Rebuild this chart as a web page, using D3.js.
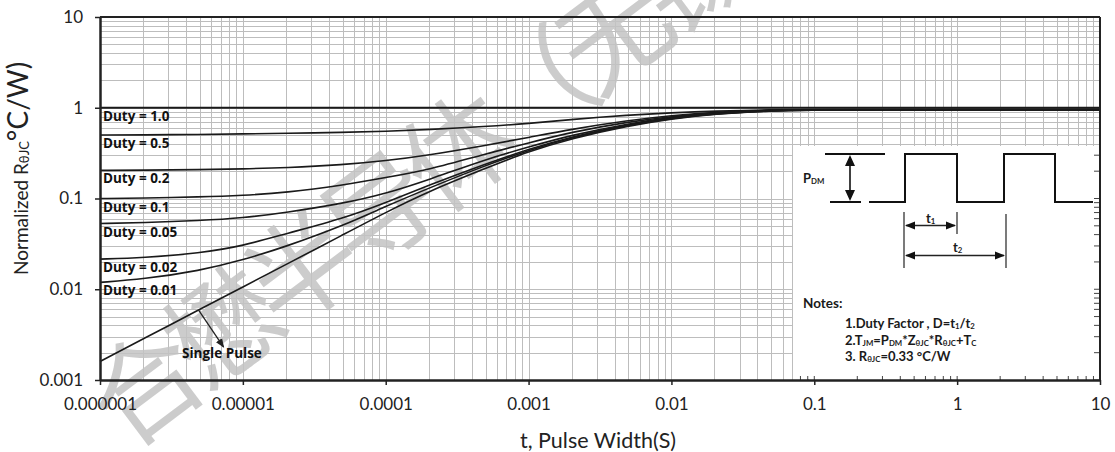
<!DOCTYPE html>
<html>
<head>
<meta charset="utf-8">
<script src="https://cdn.jsdelivr.net/npm/d3@7"></script>
<style>
  body { margin: 0; background: #fff; }
  svg text { font-family: Lato, "Open Sans", sans-serif; }
</style>
</head>
<body>
<div id="chart"></div>
<script>
// pulse widths (s) where the curves were read
const pulseWidths = [1e-6, 2e-6, 5e-6, 1e-5, 2e-5, 5e-5, 1e-4, 2e-4, 5e-4, 1e-3, 2e-3, 5e-3, 1e-2, 2e-2, 5e-2, 1e-1, 1, 10];

// normalized thermal impedance, one array per duty cycle
const duty10  = [1, 1, 1, 1, 1, 1, 1, 1, 1, 1, 1, 1, 1, 1, 1, 1, 1, 1];
const duty05  = [0.50, 0.502, 0.508, 0.515, 0.523, 0.535, 0.548, 0.575, 0.62, 0.67, 0.745, 0.83, 0.88, 0.92, 0.95, 0.96, 0.96, 0.96];
const duty02  = [0.204, 0.205, 0.208, 0.212, 0.218, 0.235, 0.26, 0.30, 0.385, 0.47, 0.58, 0.725, 0.82, 0.895, 0.94, 0.955, 0.955, 0.955];
const duty01  = [0.100, 0.101, 0.104, 0.108, 0.116, 0.14, 0.17, 0.207, 0.31, 0.41, 0.54, 0.70, 0.80, 0.885, 0.94, 0.953, 0.953, 0.953];
const duty005 = [0.053, 0.054, 0.057, 0.061, 0.07, 0.088, 0.113, 0.161, 0.27, 0.37, 0.50, 0.67, 0.785, 0.875, 0.935, 0.952, 0.952, 0.952];
const duty002 = [0.0215, 0.0222, 0.025, 0.030, 0.041, 0.060, 0.090, 0.14, 0.24, 0.35, 0.48, 0.655, 0.77, 0.865, 0.93, 0.95, 0.95, 0.95];
const duty001 = [0.0119, 0.0129, 0.016, 0.021, 0.0295, 0.050, 0.082, 0.13, 0.232, 0.34, 0.47, 0.645, 0.765, 0.86, 0.93, 0.95, 0.95, 0.95];
const single  = [0.0016, 0.00283, 0.0060, 0.0106, 0.0187, 0.0397, 0.0704, 0.12, 0.215, 0.33, 0.46, 0.635, 0.755, 0.855, 0.925, 0.948, 0.948, 0.948];

const seriesNames = ["Duty = 1.0", "Duty = 0.5", "Duty = 0.2", "Duty = 0.1", "Duty = 0.05", "Duty = 0.02", "Duty = 0.01", "Single Pulse"];
const seriesValues = [duty10, duty05, duty02, duty01, duty005, duty002, duty001, single];

const xTickValues = [1e-6, 1e-5, 1e-4, 1e-3, 1e-2, 1e-1, 1, 10];
const xTickLabels = ["0.000001", "0.00001", "0.0001", "0.001", "0.01", "0.1", "1", "10"];
const yTickValues = [0.001, 0.01, 0.1, 1, 10];
const yTickLabels = ["0.001", "0.01", "0.1", "1", "10"];

const W = 1115, H = 452;
const margin = { top: 17, right: 15, bottom: 72, left: 100 };

const svg = d3.select("#chart").append("svg")
    .attr("width", W)
    .attr("height", H);

const x = d3.scaleLog().domain([1e-6, 10]).range([margin.left, W - margin.right]);
const y = d3.scaleLog().domain([0.001, 10]).range([H - margin.bottom, margin.top]);

const x0 = x.range()[0], x1 = x.range()[1];
const y0 = y.range()[0], y1 = y.range()[1];

// grid
const grid = svg.append("g").attr("stroke", "#bdbdbd").attr("stroke-width", 1);
grid.selectAll(".gx").data(x.ticks()).enter().append("line")
    .attr("x1", d => Math.round(x(d)) + 0.5).attr("x2", d => Math.round(x(d)) + 0.5)
    .attr("y1", y1).attr("y2", y0);
grid.selectAll(".gy").data(y.ticks()).enter().append("line")
    .attr("y1", d => Math.round(y(d)) + 0.5).attr("y2", d => Math.round(y(d)) + 0.5)
    .attr("x1", x0).attr("x2", x1);

// watermark
svg.append("text")
    .attr("transform", "translate(126,452) rotate(-37)")
    .attr("fill", "#c4c4c4")
    .attr("opacity", 0.85)
    .style("font-family", "'Noto Sans CJK SC'")
    .style("font-size", "110px")
    .style("letter-spacing", "-12px")
    .text("合懋半导体（无锡）");

// curves
const line = d3.line()
    .x((d, i) => x(pulseWidths[i]))
    .y(d => y(d))
    .curve(d3.curveBasis);

svg.append("g").selectAll("path")
    .data(seriesValues)
    .enter().append("path")
    .attr("d", d => line(d))
    .attr("fill", "none")
    .attr("stroke", "#1a1a1a")
    .attr("stroke-width", (d, i) => i === 0 ? 2 : 1.6);

// duty labels
svg.append("g").selectAll("text")
    .data(seriesNames.slice(0, 7))
    .enter().append("text")
    .attr("x", x0 + 3)
    .attr("y", (d, i) => y(seriesValues[i][0]) + 13)
    .style("font-family", "'Open Sans'")
    .style("font-weight", "bold")
    .style("font-size", "13.5px")
    .attr("fill", "#111")
    .text(d => d);

// single pulse label and arrow
svg.append("defs").append("marker")
    .attr("id", "head")
    .attr("viewBox", "0 0 10 10")
    .attr("refX", 9).attr("refY", 5)
    .attr("markerWidth", 7).attr("markerHeight", 7)
    .attr("orient", "auto")
    .append("path").attr("d", "M0,1 L10,5 L0,9 Z").attr("fill", "#222");

const spT = 4.9e-6;
const spIdx = d3.bisectLeft(pulseWidths, spT);
const spV = Math.exp(Math.log(single[spIdx - 1]) + (Math.log(spT) - Math.log(pulseWidths[spIdx - 1])) /
    (Math.log(pulseWidths[spIdx]) - Math.log(pulseWidths[spIdx - 1])) * (Math.log(single[spIdx]) - Math.log(single[spIdx - 1])));
svg.append("line")
    .attr("x1", x(spT)).attr("y1", y(spV))
    .attr("x2", x(spT) + 25).attr("y2", y(spV) + 37)
    .attr("stroke", "#222").attr("stroke-width", 1.3)
    .attr("marker-end", "url(#head)");
svg.append("text")
    .attr("x", 182).attr("y", 358)
    .style("font-family", "'Open Sans'")
    .style("font-weight", "bold")
    .style("font-size", "13.5px")
    .attr("fill", "#111")
    .text(seriesNames[7]);

// notes box
const notes = svg.append("g");
notes.append("rect")
    .attr("x", 793).attr("y", 146)
    .attr("width", x1 - 793 - 1).attr("height", y0 - 146 - 1)
    .attr("fill", "#fff");

// minor inner ticks visible inside the box
notes.selectAll(".mx").data(x.ticks().filter(d => x(d) > 793)).enter().append("line")
    .attr("x1", d => x(d)).attr("x2", d => x(d))
    .attr("y1", y0 - 4).attr("y2", y0)
    .attr("stroke", "#444").attr("stroke-width", 1);
notes.selectAll(".my").data(y.ticks().filter(d => y(d) > 146)).enter().append("line")
    .attr("x1", x1 - 6).attr("x2", x1)
    .attr("y1", d => y(d)).attr("y2", d => y(d))
    .attr("stroke", "#444").attr("stroke-width", 1);

// pulse diagram
const pd = notes.append("g").attr("stroke", "#111").attr("stroke-width", 2).attr("fill", "none");
pd.append("line").attr("x1", 825).attr("x2", 885).attr("y1", 154).attr("y2", 154);
pd.append("line").attr("x1", 830).attr("x2", 861).attr("y1", 202).attr("y2", 202);
pd.append("path").attr("d", "M869,202 H905 V154 H957 V202 H1004 V154 H1055 V202 H1093");
pd.append("line").attr("x1", 850).attr("x2", 850).attr("y1", 157).attr("y2", 199).attr("stroke-width", 1.6);
pd.append("path").attr("d", "M850,155 L845,166 L855,166 Z M850,201 L845,190 L855,190 Z").attr("fill", "#111").attr("stroke", "none");
const dim = notes.append("g").attr("stroke", "#222").attr("stroke-width", 1.2);
dim.append("line").attr("x1", 904).attr("x2", 904).attr("y1", 212).attr("y2", 268);
dim.append("line").attr("x1", 957).attr("x2", 957).attr("y1", 212).attr("y2", 234);
dim.append("line").attr("x1", 1006).attr("x2", 1006).attr("y1", 214).attr("y2", 268);
dim.append("line").attr("x1", 906).attr("x2", 955).attr("y1", 225.5).attr("y2", 225.5).attr("stroke-width", 1.4);
dim.append("line").attr("x1", 906).attr("x2", 1004).attr("y1", 255.5).attr("y2", 255.5).attr("stroke-width", 1.4);
notes.append("path")
    .attr("d", "M905,225.5 L915,221.5 L915,229.5 Z M956,225.5 L946,221.5 L946,229.5 Z M905,255.5 L915,251.5 L915,259.5 Z M1005,255.5 L995,251.5 L995,259.5 Z")
    .attr("fill", "#111");

const nt = notes.append("g")
    .style("font-family", "'Liberation Sans', Arial, sans-serif")
    .style("font-weight", "bold")
    .attr("fill", "#1a1a1a");

function richText(g, xPos, yPos, size, parts) {
    const t = g.append("text").attr("x", xPos).attr("y", yPos).style("font-size", size + "px");
    parts.forEach(p => {
        const s = t.append("tspan").text(p[0]);
        if (p[1]) s.style("font-size", (size * 0.6) + "px").attr("dy", 1);
        else if (p[2]) s.attr("dy", -1);
    });
    return t;
}
richText(nt, 803, 183, 13, [["P"], ["DM", true]]);
richText(nt, 926, 223, 13, [["t"], ["1", true]]);
richText(nt, 953, 252, 13, [["t"], ["2", true]]);
nt.append("text").attr("x", 803).attr("y", 308).style("font-size", "13.5px").text("Notes:");
richText(nt, 845, 328, 13, [["1.Duty Factor , D=t"], ["1", true], ["/t", false, true], ["2", true]]);
richText(nt, 845, 345, 13, [["2.T"], ["JM", true], ["=P", false, true], ["DM", true], ["*Z", false, true], ["θJC", true], ["*R", false, true], ["θJC", true], ["+T", false, true], ["C", true]]);
richText(nt, 845, 361, 13, [["3. R"], ["θJC", true], ["=0.33 °C/W", false, true]]);

// frame
const frame = svg.append("g").attr("stroke", "#222").attr("fill", "none");
frame.append("line").attr("x1", x0).attr("x2", x1).attr("y1", y1).attr("y2", y1).attr("stroke-width", 2);
frame.append("line").attr("x1", x1).attr("x2", x1).attr("y1", y1).attr("y2", y0).attr("stroke-width", 2);

// axes
const xAxis = svg.append("g")
    .attr("transform", `translate(0,${y0})`)
    .call(d3.axisBottom(x).tickValues(xTickValues).tickFormat((d, i) => xTickLabels[i]).tickSize(5).tickPadding(13).tickSizeOuter(0));
const yAxis = svg.append("g")
    .attr("transform", `translate(${x0},0)`)
    .call(d3.axisLeft(y).tickValues(yTickValues).tickFormat((d, i) => yTickLabels[i]).tickSize(5).tickPadding(12).tickSizeOuter(0));
[xAxis, yAxis].forEach(a => {
    a.select(".domain").attr("stroke", "#222").attr("stroke-width", 2.5);
    a.selectAll(".tick line").attr("stroke", "#222").attr("stroke-width", 1.5);
    a.selectAll("text").style("font-family", "Lato").style("font-size", "17px").attr("fill", "#222");
});

// axis titles
svg.append("text")
    .attr("x", 598).attr("y", 448)
    .attr("text-anchor", "middle")
    .style("font-size", "21.5px")
    .attr("fill", "#222")
    .text("t, Pulse Width(S)");

const yt = svg.append("text")
    .attr("transform", "translate(28,275) rotate(-90)")
    .attr("text-anchor", "start")
    .attr("fill", "#222")
    .style("font-size", "19px");
yt.append("tspan").text("Normalized R");
yt.append("tspan").text("θJC").style("font-size", "13px").attr("dy", 1);
yt.append("tspan").text("°C/W)").style("font-size", "28px").attr("dy", -1);
</script>
</body>
</html>
